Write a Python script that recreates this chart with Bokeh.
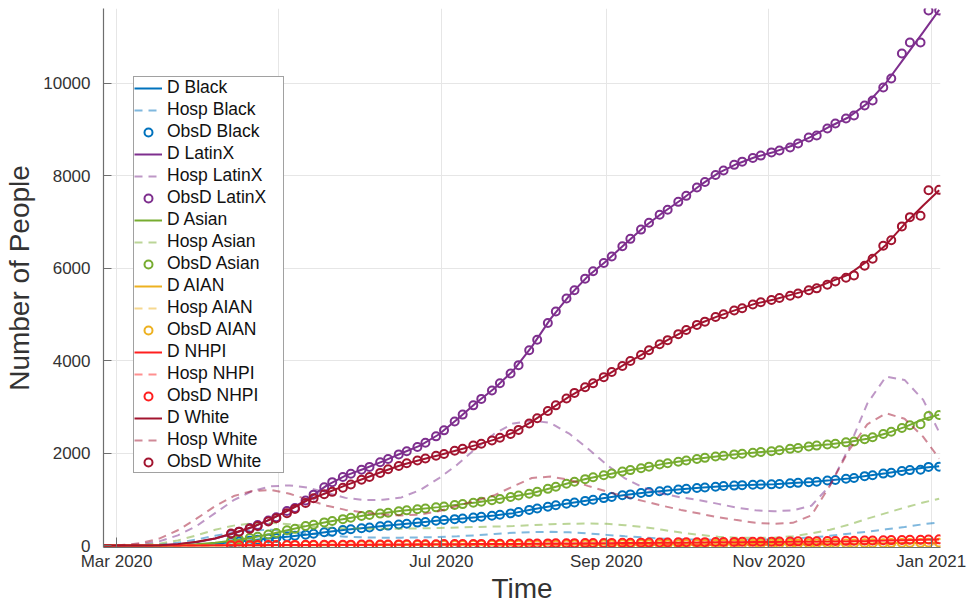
import pandas as pd
from bokeh.plotting import figure
from bokeh.models import (Range1d, FixedTicker, DatetimeTickFormatter, Legend,
                          LegendItem, ColumnDataSource)
from bokeh.embed import file_html
from bokeh.resources import INLINE

# ---- dates -------------------------------------------------------------
# model curves: weekly from late February to the first days of January
MODEL_DATES = list(pd.date_range("2020-02-25", periods=45, freq="7D")) + [pd.Timestamp("2021-01-04")]
# observed deaths: reported twice a week (Monday / Thursday)
OBS_DATES = sorted(list(pd.date_range("2020-04-13", "2021-01-04", freq="W-MON")) +
                   list(pd.date_range("2020-04-13", "2021-01-04", freq="W-THU")))

GROUPS = ["Black", "LatinX", "Asian", "AIAN", "NHPI", "White"]
COLORS = ["#0072BD", "#7E2F8E", "#77AC30", "#EDB120", "#FF1F1F", "#A2142F"]

# ---- model deaths (D) --------------------------------------------------
D_BLACK = [0, 0, 0, 1, 4, 15, 40, 75, 115, 155, 195, 240, 290, 340, 380, 420, 460, 500, 540, 575,
           610, 650, 700, 780, 850, 915, 975, 1035, 1090, 1140, 1180, 1215, 1250, 1275, 1300,
           1315, 1325, 1350, 1375, 1410, 1450, 1510, 1560, 1620, 1680, 1715]
D_LATINX = [0, 0, 2, 8, 25, 70, 150, 260, 400, 570, 780, 1010, 1300, 1510, 1660, 1820, 1995, 2160,
            2400, 2730, 3080, 3400, 3780, 4300, 4900, 5400, 5820, 6150, 6520, 6880, 7190, 7470,
            7780, 8050, 8250, 8400, 8510, 8650, 8840, 9060, 9260, 9560, 10000, 10550, 11100, 11580]
D_ASIAN = [0, 0, 0, 2, 8, 25, 60, 110, 170, 250, 340, 430, 510, 580, 650, 700, 750, 790, 830, 880,
           930, 990, 1060, 1130, 1240, 1350, 1450, 1530, 1610, 1680, 1760, 1820, 1880, 1930, 1975,
           2010, 2045, 2100, 2150, 2190, 2240, 2310, 2420, 2560, 2730, 2830]
D_AIAN = [0, 0, 0, 0, 0, 1, 2, 3, 4, 5, 6, 7, 8, 9, 10, 11, 12, 13, 14, 15, 16, 17, 18, 19, 20,
          21, 22, 23, 24, 25, 26, 27, 28, 29, 30, 31, 32, 33, 35, 37, 40, 43, 47, 52, 57, 60]
D_NHPI = [0, 0, 0, 0, 1, 2, 3, 5, 7, 9, 11, 13, 15, 17, 19, 21, 23, 25, 27, 29, 31, 33, 35, 38, 41,
          44, 47, 50, 53, 56, 59, 62, 65, 68, 71, 74, 77, 80, 84, 88, 93, 99, 106, 115, 124, 132]
D_WHITE = [0, 0, 2, 8, 30, 80, 150, 270, 400, 570, 770, 985, 1140, 1300, 1450, 1600, 1740, 1850,
           1950, 2060, 2170, 2290, 2440, 2680, 2950, 3220, 3450, 3680, 3920, 4150, 4380, 4600,
           4800, 4960, 5100, 5230, 5320, 5430, 5540, 5700, 5860, 6150, 6500, 6950, 7350, 7680]

# ---- model hospitalisations (Hosp) --------------------------------------
HOSP_BLACK = [0, 1, 5, 20, 60, 130, 210, 280, 330, 340, 310, 260, 220, 190, 175, 170, 170, 175, 185,
              200, 220, 250, 275, 290, 295, 285, 260, 230, 200, 175, 150, 135, 128, 125, 125, 128,
              135, 150, 175, 210, 255, 300, 350, 400, 460, 500]
HOSP_LATINX = [0, 5, 30, 90, 220, 420, 700, 980, 1180, 1280, 1300, 1250, 1140, 1030, 980, 990, 1040,
               1200, 1450, 1750, 2100, 2420, 2640, 2700, 2650, 2420, 2100, 1750, 1450, 1250, 1120,
               1040, 980, 900, 820, 760, 740, 760, 860, 1300, 2100, 3070, 3650, 3580, 3150, 2450]
HOSP_ASIAN = [0, 2, 10, 40, 110, 220, 340, 430, 480, 490, 460, 420, 390, 370, 365, 360, 365, 370, 380,
              390, 400, 410, 420, 440, 460, 470, 475, 470, 440, 400, 340, 280, 230, 190, 170, 165,
              170, 200, 260, 340, 450, 580, 700, 820, 930, 1010]
HOSP_AIAN = [0, 0, 0, 1, 2, 4, 6, 8, 9, 10, 10, 10, 9, 9, 8, 8, 8, 9, 10, 11, 12, 13, 14, 15, 15, 15,
             14, 13, 12, 11, 10, 10, 9, 9, 9, 10, 11, 13, 16, 20, 25, 30, 34, 36, 36, 35]
HOSP_NHPI = [0, 0, 0, 1, 2, 4, 7, 9, 11, 12, 12, 11, 10, 10, 10, 11, 12, 14, 16, 18, 20, 22, 24, 25,
             25, 24, 22, 20, 18, 16, 15, 14, 13, 13, 13, 14, 16, 20, 26, 33, 40, 46, 50, 52, 52, 50]
HOSP_WHITE = [0, 10, 50, 150, 330, 580, 850, 1070, 1180, 1200, 1120, 990, 860, 770, 710, 670, 650,
              670, 740, 860, 970, 1090, 1280, 1460, 1490, 1420, 1290, 1170, 1060, 960, 860, 770,
              690, 610, 550, 490, 470, 490, 650, 1300, 2050, 2620, 2860, 2740, 2350, 1880]

# ---- observed cumulative deaths (ObsD) ----------------------------------
OBS_BLACK = [70, 85, 105, 125, 150, 165, 190, 210, 235, 255, 285, 300, 335, 350, 375, 390, 415, 430,
             455, 470, 495, 510, 535, 550, 570, 585, 605, 620, 645, 665, 695, 725, 770, 800, 840,
             870, 905, 930, 965, 990, 1025, 1050, 1085, 1105, 1135, 1155, 1175, 1190, 1210, 1225,
             1245, 1255, 1270, 1285, 1295, 1305, 1315, 1318, 1322, 1330, 1345, 1355, 1370, 1380,
             1405, 1415, 1445, 1460, 1500, 1520, 1555, 1575, 1610, 1630, 1640, 1700, 1705]
OBS_LATINX = [245, 300, 380, 445, 540, 610, 745, 810, 975, 1100, 1260, 1370, 1480, 1550, 1640, 1700,
              1800, 1870, 1970, 2040, 2130, 2220, 2360, 2490, 2680, 2830, 3030, 3170, 3350, 3510,
              3720, 3900, 4220, 4450, 4810, 5060, 5340, 5520, 5770, 5930, 6110, 6250, 6470, 6630,
              6830, 6980, 7150, 7260, 7430, 7560, 7740, 7860, 8010, 8110, 8230, 8300, 8380, 8430,
              8500, 8541, 8605, 8692, 8822, 8865, 9016, 9124, 9232, 9297, 9514, 9622, 9903, 10097,
              10638, 10876, 10876, 11568, 11568]
OBS_ASIAN = [100, 130, 160, 190, 240, 270, 330, 360, 420, 450, 500, 530, 570, 600, 640, 660, 690, 710,
             740, 760, 785, 800, 825, 845, 875, 895, 925, 945, 980, 1005, 1050, 1080, 1120, 1160,
             1225, 1270, 1335, 1380, 1435, 1475, 1520, 1555, 1600, 1630, 1670, 1705, 1750, 1780,
             1810, 1840, 1870, 1895, 1925, 1940, 1970, 1985, 2005, 2020, 2040, 2060, 2090, 2110,
             2140, 2160, 2185, 2200, 2230, 2250, 2300, 2340, 2410, 2460, 2540, 2600, 2620, 2800, 2820]
OBS_AIAN = [1, 1, 2, 2, 3, 3, 4, 4, 5, 5, 6, 6, 7, 7, 8, 8, 9, 9, 10, 10, 11, 11, 12, 12, 13, 13, 14,
            14, 15, 15, 16, 16, 17, 18, 19, 19, 20, 21, 22, 22, 23, 24, 25, 25, 26, 27, 28, 28, 29,
            30, 31, 31, 32, 33, 34, 34, 35, 36, 37, 38, 39, 40, 41, 42, 43, 44, 45, 46, 48, 49, 51,
            52, 54, 56, 57, 59, 60]
OBS_NHPI = [6, 7, 8, 9, 10, 11, 12, 13, 14, 15, 16, 17, 18, 19, 20, 21, 22, 23, 24, 25, 26, 27, 28,
            30, 31, 32, 34, 35, 36, 38, 40, 41, 43, 44, 46, 48, 49, 51, 52, 54, 56, 57, 59, 60, 62,
            63, 65, 67, 68, 70, 71, 73, 75, 76, 78, 80, 81, 83, 84, 86, 88, 90, 92, 94, 96, 99, 101,
            104, 107, 110, 114, 117, 121, 124, 126, 131, 133]
OBS_WHITE = [260, 300, 360, 420, 520, 590, 700, 790, 920, 1020, 1110, 1160, 1250, 1320, 1420, 1480,
             1570, 1650, 1720, 1780, 1840, 1880, 1940, 1980, 2050, 2090, 2160, 2200, 2270, 2330,
             2410, 2500, 2640, 2750, 2910, 3030, 3180, 3300, 3420, 3510, 3640, 3750, 3880, 3990,
             4120, 4220, 4350, 4440, 4570, 4660, 4770, 4840, 4940, 5000, 5080, 5130, 5210, 5260,
             5310, 5350, 5400, 5450, 5520, 5560, 5640, 5710, 5790, 5840, 6050, 6200, 6480, 6600,
             6900, 7100, 7130, 7680, 7690]

D_SERIES = [D_BLACK, D_LATINX, D_ASIAN, D_AIAN, D_NHPI, D_WHITE]
HOSP_SERIES = [HOSP_BLACK, HOSP_LATINX, HOSP_ASIAN, HOSP_AIAN, HOSP_NHPI, HOSP_WHITE]
OBS_SERIES = [OBS_BLACK, OBS_LATINX, OBS_ASIAN, OBS_AIAN, OBS_NHPI, OBS_WHITE]

X_TICKS = ["2020-03-01", "2020-05-01", "2020-07-01", "2020-09-01", "2020-11-01", "2021-01-01"]
Y_TICKS = [0, 2000, 4000, 6000, 8000, 10000]

FONT = "Liberation Sans"


def ms(ts):
    return pd.Timestamp(ts).value // 10**6


p = figure(width=967, height=607, x_axis_type="datetime",
           output_backend="svg", toolbar_location=None,
           x_range=Range1d(ms("2020-02-25 02:00"), ms("2021-01-04 12:00")),
           y_range=Range1d(-43, 11611),
           min_border_left=103, min_border_right=27,
           min_border_top=8, min_border_bottom=60)
p.outline_line_color = None
p.background_fill_color = "white"

items = []
for name, color, dv, hv, ov in zip(GROUPS, COLORS, D_SERIES, HOSP_SERIES, OBS_SERIES):
    src_m = ColumnDataSource(dict(t=MODEL_DATES, d=dv, h=hv))
    src_o = ColumnDataSource(dict(t=OBS_DATES, o=ov))
    r_d = p.line("t", "d", source=src_m, line_color=color, line_width=2)
    r_h = p.line("t", "h", source=src_m, line_color=color, line_width=2,
                 line_alpha=0.5, line_dash="8 6")
    r_o = p.scatter("t", "o", source=src_o, marker="circle", size=8,
                    fill_color=None, line_color=color, line_width=2)
    items += [LegendItem(label=f"D {name}", renderers=[r_d]),
              LegendItem(label=f"Hosp {name}", renderers=[r_h]),
              LegendItem(label=f"ObsD {name}", renderers=[r_o])]

# axes
p.xaxis.ticker = FixedTicker(ticks=[ms(t) for t in X_TICKS])
p.xaxis.formatter = DatetimeTickFormatter(
    years="%b %Y", months="%b %Y", days="%b %Y", hours="%b %Y")
p.yaxis.ticker = FixedTicker(ticks=Y_TICKS)
p.xaxis.axis_label = "Time"
p.yaxis.axis_label = "Number of People"
for ax in (p.xaxis, p.yaxis):
    ax.axis_line_color = "#6e6e6e"
    ax.axis_line_width = 1.2
    ax.major_tick_line_color = "#6e6e6e"
    ax.major_tick_out = 0
    ax.minor_tick_line_color = None
    ax.major_label_text_font = FONT
    ax.major_label_text_font_size = "17px"
    ax.major_label_text_color = "#333333"
    ax.axis_label_text_font = FONT
    ax.axis_label_text_font_size = "28px"
    ax.axis_label_text_font_style = "normal"
    ax.axis_label_text_color = "#333333"
p.xaxis.major_tick_in = 10
p.yaxis.major_tick_in = 8
p.xaxis.major_label_standoff = 4
p.yaxis.major_label_standoff = 13
p.xaxis.axis_label_standoff = -1
p.yaxis.axis_label_standoff = 5

p.xgrid.grid_line_color = "#e6e6e6"
p.ygrid.grid_line_color = "#e6e6e6"

legend = Legend(items=items, location=(30, 74), orientation="vertical",
                label_text_font=FONT, label_text_font_size="17.5px",
                label_text_color="#111111",
                glyph_width=28, glyph_height=20, label_height=20, label_width=116,
                label_standoff=5, spacing=1, padding=0, margin=0,
                border_line_color="#444444", border_line_width=1,
                background_fill_color="white", background_fill_alpha=1)
p.add_layout(legend)

open("out.html", "w").write(file_html(p, INLINE))
